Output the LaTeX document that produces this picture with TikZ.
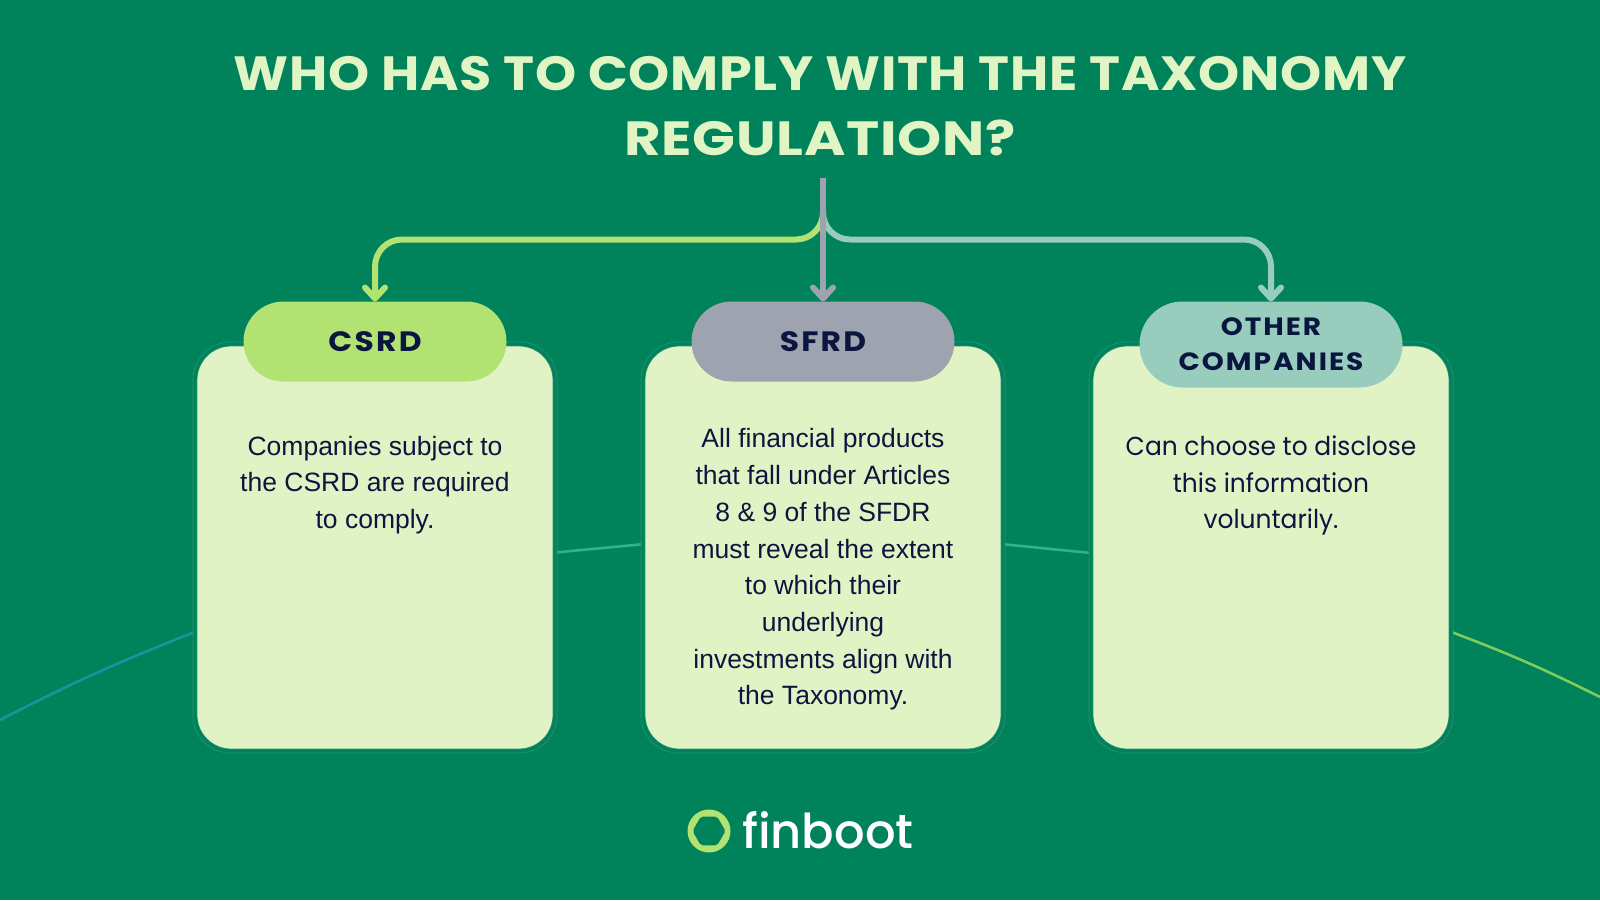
\documentclass[tikz,border=0pt]{standalone}
\usepackage{fontspec}
\usepackage{xcolor}
\usetikzlibrary{arrows.meta,shapes.misc,shapes.geometric}
\setmainfont{Liberation Sans}
\newfontfamily\titlefont[FakeStretch=1.09,LetterSpace=1.5]{Poppins}
\newfontfamily\titlewide[FakeStretch=1.17,LetterSpace=1.5]{Poppins}
\newfontfamily\pillfont[FakeStretch=1.12,LetterSpace=8]{Poppins}
\newfontfamily\widefont[FakeStretch=0.96]{Poppins}
\newfontfamily\logofont{Poppins Medium}
\definecolor{bggreen}{HTML}{00825A}
\definecolor{cardgreen}{HTML}{E1F3C5}
\definecolor{edgegreen}{HTML}{2A9572}
\definecolor{csrdgreen}{HTML}{B2E271}
\definecolor{sfrdgrey}{HTML}{9EA3B0}
\definecolor{othermint}{HTML}{98CCBC}
\definecolor{inkblue}{HTML}{0B1640}
\definecolor{titlecream}{HTML}{E1F5C4}
\definecolor{swooshblue}{HTML}{1A93A0}
\definecolor{swooshmint}{HTML}{35B088}
\definecolor{swooshlime}{HTML}{7FCB5C}
\tikzset{
  cardbox/.style={rectangle,rounded corners=36pt,minimum width=360pt,minimum height=407pt,inner sep=0pt,outer sep=0pt,
    fill=cardgreen,draw=edgegreen,line width=0.7pt,double=bggreen,double distance=3.4pt},
  pillbox/.style={rounded rectangle,minimum width=263pt,inner sep=0pt,outer sep=0pt,text=inkblue,align=center,
    font=\pillfont\bfseries\fontsize{28}{35}\selectfont},
  bodytext/.style={text=inkblue,align=center,inner sep=0pt,font=\fontsize{26.5}{36.7}\selectfont},
  branch/.style={line width=6pt,rounded corners=27pt,-{Straight Barb[length=11pt,width=20pt,round]}},
  swoosh/.style={line width=2.6pt}
}
\begin{document}
\begin{tikzpicture}[x=1pt,y=-1pt]
  \fill [bggreen] (0,0) rectangle (1600,900);
  \useasboundingbox (0,0) rectangle (1600,900);
  \draw [swoosh,swooshblue] (0,720) to[bend left=3] (200,630);
  \draw [swoosh,swooshmint] (550,553) -- (650,543.5);
  \draw [swoosh,swooshmint] (996,543.5) -- (1096,553.5);
  \draw [swoosh,swooshlime] (1446,630) to[bend left=3] (1600,697);
  \node (csrdcard) [cardbox] at (375,547.5) {};
  \node (sfrdcard) [cardbox] at (823,547.5) {};
  \node (othercard) [cardbox] at (1271,547.5) {};
  \node (title) at (820,106.5) [text=titlecream,align=center,inner sep=0pt,font=\titlefont\bfseries\fontsize{48}{65}\selectfont] {WHO HAS TO COMPLY WITH THE TAXONOMY\\{\titlewide\bfseries REGULATION?}};
  \coordinate (hub) at (823,178);
  \coordinate (fork) at (823,212);
  \coordinate (forkbend) at (823,239.5);
  \node (csrdpill) [pillbox,fill=csrdgreen,minimum height=80pt] at (375,341.5) {CSRD};
  \node (sfrdpill) [pillbox,fill=sfrdgrey,minimum height=80pt] at (823,341.5) {SFRD};
  \node (otherpill) [pillbox,fill=othermint,minimum height=86pt,font=\pillfont\bfseries\fontsize{25}{35}\selectfont] at (1271,344.5) {OTHER\\COMPANIES};
  \draw [branch,csrdgreen] (fork) -- (forkbend) -| (csrdpill.north);
  \draw [branch,othermint] (fork) -- (forkbend) -| (otherpill.north);
  \draw [branch,sfrdgrey] (hub) -- (sfrdpill.north);
  \node (csrdtext) [bodytext] at (375,485) {Companies subject to\\the CSRD are required\\to comply.};
  \node (sfrdtext) [bodytext] at (823,569.5) {All financial products\\that fall under Articles\\8 \& 9 of the SFDR\\must reveal the extent\\to which their\\underlying\\investments align with\\the Taxonomy.};
  \node (othertext) [bodytext,font=\widefont\fontsize{26}{36.7}\selectfont] at (1271,485.5) {Can choose to disclose\\this information\\voluntarily.};
  \node (logoring) [circle,fill=csrdgreen,minimum size=43pt,inner sep=0pt] at (709,831) {};
  \node (logohole) [regular polygon,regular polygon sides=6,fill=bggreen,minimum size=33pt,inner sep=0pt,rounded corners=2pt] at (logoring.center) {};
  \node (logotext) [anchor=base west,inner sep=0pt,text=white,font=\logofont\fontsize{48}{48}\selectfont] at (742,848) {finboot};
\end{tikzpicture}
\end{document}
